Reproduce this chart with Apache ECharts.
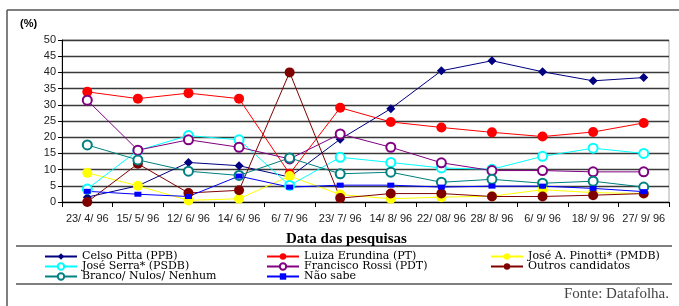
<!DOCTYPE html>
<html>
<head>
<meta charset="utf-8">
<script src="https://cdn.jsdelivr.net/npm/echarts@6.0.0/dist/echarts.min.js"></script>
<style>
  html, body { margin: 0; padding: 0; background: #fff; }
  #chart { width: 679px; height: 306px; }
</style>
</head>
<body>
<div id="chart"></div>
<script>
// datas das pesquisas
const datas = ['23/ 4/ 96', '15/ 5/ 96', '12/ 6/ 96', '14/ 6/ 96', '6/ 7/ 96', '23/ 7/ 96',
  '14/ 8/ 96', '22/ 08/ 96', '28/ 8/ 96', '6/ 9/ 96', '18/ 9/ 96', '27/ 9/ 96'];

// intenção de voto (%)
const celsoPitta   = [1.5, 5, 12.2, 11.2, 7.7, 19.4, 28.8, 40.5, 43.6, 40.2, 37.4, 38.4];
const luizaErundina = [34, 31.9, 33.6, 31.9, 8.7, 29.1, 24.7, 23, 21.5, 20.2, 21.6, 24.4];
const josePinotti  = [9, 5, 0.5, 1, 8, 2.3, 1, 1.5, 1.8, 3.8, 2.9, 2.6];
const joseSerra    = [4, 15.9, 20.5, 19.2, 5.1, 13.8, 12.2, 10.5, 10.1, 14.1, 16.6, 15];
const franciscoRossi = [31.4, 16, 19.2, 16.9, 13.3, 21, 16.9, 12.1, 9.7, 9.7, 9.3, 9.3];
const outrosCandidatos = [0, 11.8, 2.8, 3.6, 40, 1.2, 2.6, 2.6, 1.7, 1.7, 2.1, 2.6];
const brancoNulos  = [17.6, 13, 9.5, 8.2, 13.6, 8.7, 9.2, 6.1, 7, 5.8, 6.4, 4.6];
const naoSabe      = [3.3, 2.4, 1.7, 8, 4.6, 5.2, 5.2, 4.6, 4.9, 4.9, 4.2, 3.2];

const yTicks = [0, 5, 10, 15, 20, 25, 30, 35, 40, 45, 50];

const chart = echarts.init(document.getElementById('chart'));

// monta uma série de linha
function linha(name, data, color, symbol, size) {
  return {
    name: name,
    type: 'line',
    data: data,
    symbol: symbol,
    symbolSize: size,
    showAllSymbol: true,
    lineStyle: { color: color, width: 1 },
    itemStyle: { color: color, borderColor: color, borderWidth: symbol === 'emptyCircle' ? 1.3 : 0 },
    emphasis: { disabled: true },
    animation: false
  };
}

const legendText = {
  fontFamily: '"DejaVu Serif", serif',
  fontSize: 11,
  color: '#000',
  lineHeight: 11
};

function legenda(left, names) {
  return {
    orient: 'vertical',
    left: left,
    top: 251,
    itemGap: -1,
    itemWidth: 32,
    itemHeight: 8,
    padding: 0,
    selectedMode: false,
    textStyle: legendText,
    data: names
  };
}

const option = {
  backgroundColor: '#fff',
  animation: false,
  grid: {
    left: 62, right: 10, top: 40, bottom: 104,
    show: true, borderColor: '#aaa', borderWidth: 1
  },
  xAxis: {
    type: 'category',
    data: datas,
    boundaryGap: true,
    axisLine: { lineStyle: { color: '#000', width: 1 } },
    axisTick: { show: true, alignWithLabel: false, length: 5, lineStyle: { color: '#000' } },
    axisLabel: {
      interval: 0, margin: 11,
      fontFamily: '"Liberation Sans", Arial, sans-serif',
      fontSize: 11, color: '#222'
    },
    splitLine: { show: false }
  },
  yAxis: {
    type: 'value',
    min: 0, max: 50, interval: 5,
    axisLine: { show: true, lineStyle: { color: '#000', width: 1 } },
    axisTick: { show: true, length: 4, lineStyle: { color: '#000' } },
    axisLabel: {
      margin: 6,
      fontFamily: '"Liberation Sans", Arial, sans-serif',
      fontSize: 11, color: '#222',
      formatter: v => yTicks.includes(v) ? String(v) : ''
    },
    splitLine: { show: true, lineStyle: { color: '#3a3a3a', width: 1.3 } }
  },
  legend: [
    legenda(44, ['Celso Pitta (PPB)', 'José Serra* (PSDB)', 'Branco/ Nulos/ Nenhum']),
    legenda(266, ['Luiza Erundina (PT)', 'Francisco Rossi (PDT)', 'Não sabe']),
    legenda(490, ['José A. Pinotti* (PMDB)', 'Outros candidatos'])
  ],
  graphic: [
    // moldura externa
    { type: 'line', shape: { x1: 7, y1: 10, x2: 679, y2: 10 }, style: { stroke: '#555', lineWidth: 1.5 }, silent: true },
    { type: 'line', shape: { x1: 7, y1: 10, x2: 7, y2: 306 }, style: { stroke: '#555', lineWidth: 1.5 }, silent: true },
    // caixa da legenda
    { type: 'line', shape: { x1: 16, y1: 246, x2: 672, y2: 246 }, style: { stroke: '#000', lineWidth: 1 }, silent: true },
    { type: 'line', shape: { x1: 16, y1: 284, x2: 672, y2: 284 }, style: { stroke: '#000', lineWidth: 1 }, silent: true },
    {
      type: 'text', left: 20, top: 18, silent: true,
      style: { text: '(%)', font: 'bold 11px "Liberation Sans", Arial, sans-serif', fill: '#000' }
    },
    {
      type: 'text', left: 286, top: 232, silent: true,
      style: { text: 'Data das pesquisas', font: 'bold 15px "Liberation Serif", serif', fill: '#000' }
    },
    {
      type: 'text', right: 10, top: 287, silent: true,
      style: { text: 'Fonte: Datafolha.', font: '15px "Liberation Serif", serif', fill: '#444' }
    }
  ],
  series: [
    linha('Celso Pitta (PPB)', celsoPitta, '#000080', 'diamond', 9),
    linha('Luiza Erundina (PT)', luizaErundina, '#ff0000', 'circle', 10),
    linha('José A. Pinotti* (PMDB)', josePinotti, '#ffff00', 'circle', 10),
    linha('José Serra* (PSDB)', joseSerra, '#00ffff', 'emptyCircle', 9),
    linha('Francisco Rossi (PDT)', franciscoRossi, '#800080', 'emptyCircle', 9),
    linha('Outros candidatos', outrosCandidatos, '#800000', 'circle', 10),
    linha('Branco/ Nulos/ Nenhum', brancoNulos, '#008080', 'emptyCircle', 9),
    linha('Não sabe', naoSabe, '#0000ff', 'rect', [7, 5])
  ]
};

chart.setOption(option);
</script>
</body>
</html>
